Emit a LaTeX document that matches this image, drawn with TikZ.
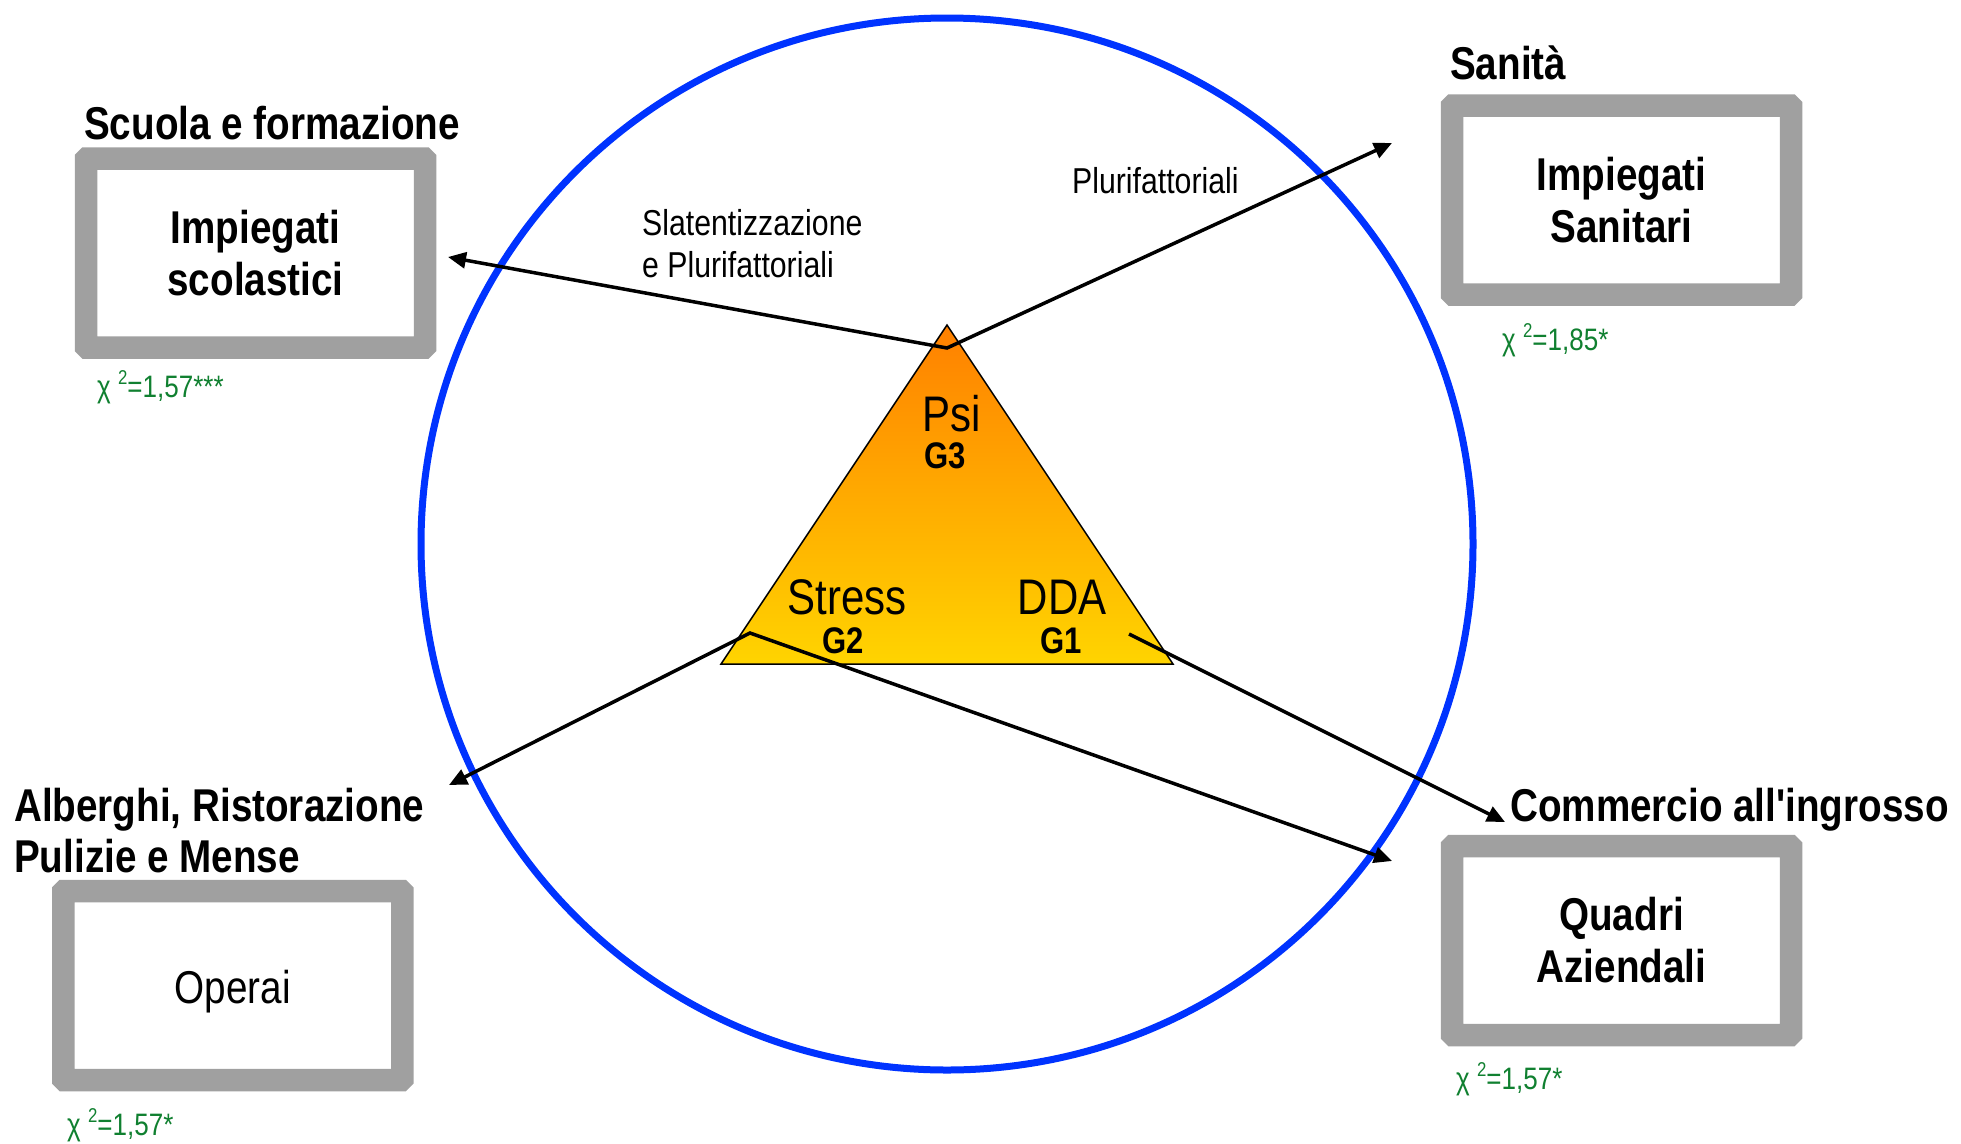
\documentclass[tikz,border=0pt]{standalone}
\usepackage{fontspec}
\setmainfont{Liberation Sans}[FakeStretch=0.84, Ligatures=TeXOff]
\usetikzlibrary{arrows.meta}
\definecolor{ringblue}{RGB}{0,51,255}
\definecolor{boxgray}{RGB}{160,160,160}
\definecolor{chigreen}{RGB}{16,128,48}
\definecolor{triorange}{RGB}{255,128,0}
\definecolor{triyellow}{RGB}{255,212,0}
\newcommand\boxfont{\fontsize{46}{52}\selectfont\bfseries}
\newcommand\boxfontreg{\fontsize{46}{52}\selectfont}
\newcommand\hdrfont{\fontsize{46}{51}\selectfont\bfseries}
\newcommand\chifont{\fontsize{31}{36}\selectfont}
\newcommand\lblfont{\fontsize{36}{42.5}\selectfont}
\newcommand\trifont{\fontsize{50}{55}\selectfont}
\newcommand\gfont{\fontsize{37}{40}\selectfont\bfseries}
\newcommand\chisq[1]{χ \raisebox{13pt}{\fontsize{20}{21}\selectfont 2}=#1}
\begin{document}
\begin{tikzpicture}[x=1pt,y=-1pt,
  boxnode/.style={draw=boxgray, line width=22.5pt, rounded corners=1pt, fill=white,
    minimum width=339pt, minimum height=189pt, inner sep=0pt, outer sep=0pt,
    align=center, font=\boxfont},
  hdr/.style={anchor=base west, inner sep=0pt, font=\hdrfont, align=left},
  chi/.style={anchor=base west, inner sep=0pt, text=chigreen, font=\chifont},
  lbl/.style={anchor=base west, inner sep=0pt, font=\lblfont, align=left},
  tri/.style={anchor=base, inner sep=0pt, font=\trifont},
  gl/.style={anchor=base, inner sep=0pt, font=\gfont},
  arr/.style={line width=3.5pt, -{Triangle[length=18pt,width=16pt]}},
  arrboth/.style={line width=3.5pt, {Triangle[length=18pt,width=16pt]}-{Triangle[length=18pt,width=16pt]}},
]
\useasboundingbox (0,0) rectangle (1961,1143);

% ring
\draw[ringblue, line width=7pt] (947,544) circle[radius=526];

% triangle
\shadedraw[top color=triorange, bottom color=triyellow, draw=black, line width=1.5pt]
  (947,325) -- (721,664) -- (1173,664) -- cycle;
\node[tri] (psi) at (952,431) {Psi};
\node[gl] (g3) at (945,468) {G3};
\node[tri] (stress) at (847,614) {Stress};
\node[gl] (g2) at (843,653) {G2};
\node[tri] (dda) at (1062,614) {DDA};
\node[gl] (g1) at (1061,653) {G1};

% boxes
\node[boxnode] (scol) at (255.5,253) {Impiegati\\scolastici};
\node[boxnode] (sanit) at (1621.5,200) {Impiegati\\Sanitari};
\node[boxnode, font=\boxfontreg] (oper) at (232.75,985.5) {\raisebox{-18pt}[0pt][0pt]{Operai}};
\node[boxnode] (quadri) at (1621.5,940.5) {Quadri\\Aziendali};

% headers (base anchor = baseline of last line)
\node[hdr] (h1) at (84,139) {Scuola e formazione};
\node[hdr] (h2) at (1450,79) {Sanità};
\node[hdr] (h3) at (14,872) {Alberghi, Ristorazione\\Pulizie e Mense};
\node[hdr] (h4) at (1510,821) {Commercio all'ingrosso};

% chi labels
\node[chi] (c1) at (97,397) {\chisq{1,57***}};
\node[chi] (c2) at (1502,350) {\chisq{1,85*}};
\node[chi] (c3) at (67,1135) {\chisq{1,57*}};
\node[chi] (c4) at (1456,1089) {\chisq{1,57*}};

% arrow labels
\node[lbl] (l1) at (642,277.5) {Slatentizzazione\\e Plurifattoriali};
\node[lbl] (l2) at (1072,193) {Plurifattoriali};

% arrows
\coordinate (psiv) at (947,348);
\coordinate (tipA) at (448,257);
\coordinate (tipB) at (1392,143);
\coordinate (g2v) at (750,633);
\coordinate (tipC) at (449,785);
\coordinate (tipD) at (1392,861);
\coordinate (g1v) at (1129,634);
\coordinate (tipE) at (1505,822);
\draw[arrboth, line join=miter] (tipA) -- (psiv) -- (tipB);
\draw[arrboth, line join=miter] (tipC) -- (g2v) -- (tipD);
\draw[arr] (g1v) -- (tipE);
\end{tikzpicture}
\end{document}
